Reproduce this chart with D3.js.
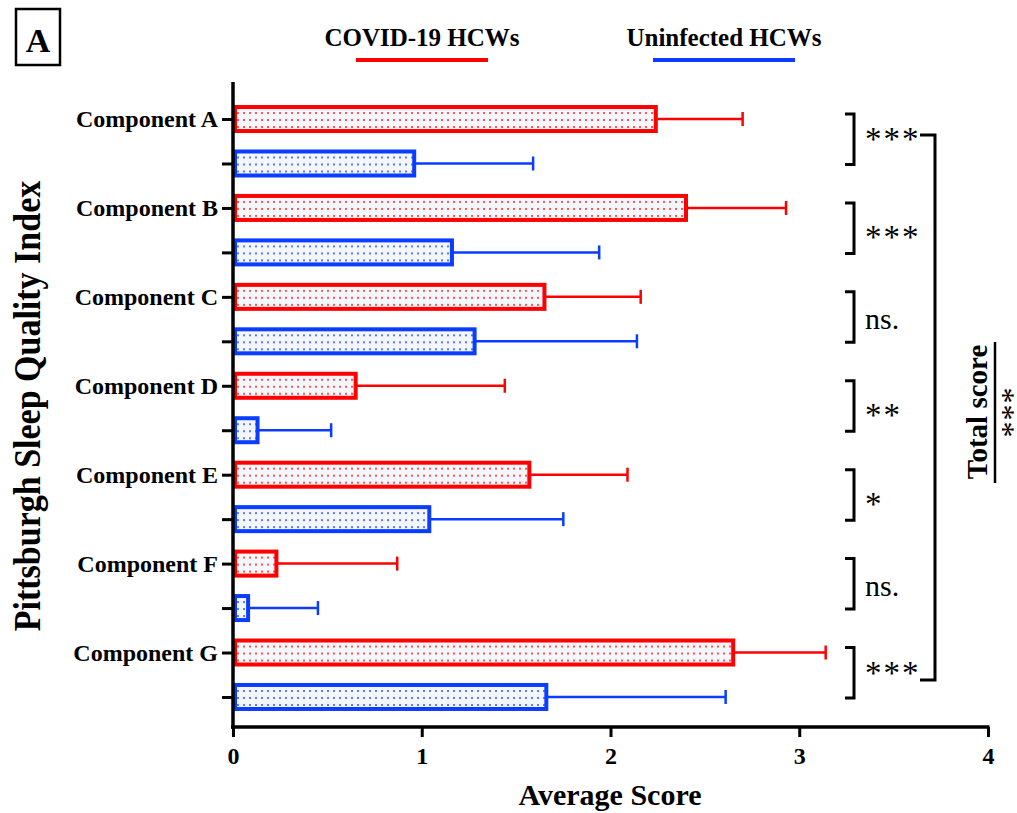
<!DOCTYPE html>
<html>
<head>
<meta charset="utf-8">
<script src="https://cdn.jsdelivr.net/npm/d3@7"></script>
<style>
  body { margin: 0; background: #fff; }
  svg { display: block; }
</style>
</head>
<body>
<div id="chart"></div>
<script>
// values
var components = ["Component A", "Component B", "Component C", "Component D", "Component E", "Component F", "Component G"]
var covidMean = [2.24, 2.40, 1.65, 0.65, 1.57, 0.23, 2.65]
var covidSD = [0.46, 0.53, 0.51, 0.79, 0.52, 0.64, 0.49]
var uninfMean = [0.96, 1.16, 1.28, 0.13, 1.04, 0.08, 1.66]
var uninfSD = [0.63, 0.78, 0.86, 0.39, 0.71, 0.37, 0.95]
var sigLabels = ["***", "***", "ns.", "**", "*", "ns.", "***"]
var xTicks = [0, 1, 2, 3, 4]
var groupNames = ["COVID-19 HCWs", "Uninfected HCWs"]

var W = 1017, H = 813
var pLeft = 233, pRight = 988, pTop = 82, pBottom = 727
var red = "#ff0000", blue = "#0a3dff"
var serif = "'Liberation Serif', 'Times New Roman', serif"

var svg = d3.select("#chart").append("svg")
  .attr("width", W).attr("height", H)
  .style("font-family", serif)

// build rows: each component has a covid row then an uninfected row
var rows = []
components.forEach(function(c, i) {
  rows.push({key: c, comp: i, grp: 0, mean: covidMean[i], sd: covidSD[i]})
  rows.push({key: c + "_u", comp: i, grp: 1, mean: uninfMean[i], sd: uninfSD[i]})
})

var x = d3.scaleLinear().domain([0, 4]).range([pLeft, pRight])
var y = d3.scalePoint().domain(rows.map(function(d) { return d.key }))
  .range([96.8, 719.2]).padding(0.5)
var barH = 24

var defs = svg.append("defs")
rows.forEach(function(d, i) {
  var p = defs.append("pattern")
    .attr("id", "dots" + i)
    .attr("patternUnits", "userSpaceOnUse")
    .attr("x", x(0) + 2).attr("y", y(d.key) - barH / 2)
    .attr("width", 6).attr("height", 7)
  p.append("rect").attr("width", 6).attr("height", 7).attr("fill", "#f3f7fb")
  p.append("circle").attr("cx", 3).attr("cy", 6).attr("r", 1)
    .attr("fill", d.grp == 0 ? "#ff2020" : "#2a50ff")
})

// error bars
var eb = svg.append("g").selectAll("g").data(rows).enter().append("g")
  .attr("stroke", function(d) { return d.grp == 0 ? red : blue })
  .attr("stroke-width", 2.5)
eb.append("line")
  .attr("x1", function(d) { return x(d.mean) }).attr("x2", function(d) { return x(d.mean + d.sd) })
  .attr("y1", function(d) { return y(d.key) }).attr("y2", function(d) { return y(d.key) })
eb.append("line")
  .attr("x1", function(d) { return x(d.mean + d.sd) }).attr("x2", function(d) { return x(d.mean + d.sd) })
  .attr("y1", function(d) { return y(d.key) - 7 }).attr("y2", function(d) { return y(d.key) + 7 })

// bars
svg.append("g").selectAll("rect").data(rows).enter().append("rect")
  .attr("x", x(0) + 2)
  .attr("y", function(d) { return y(d.key) - barH / 2 })
  .attr("width", function(d) { return Math.max(0, x(d.mean) - x(0) - 2) })
  .attr("height", barH)
  .attr("fill", function(d, i) { return "url(#dots" + i + ")" })
  .attr("stroke", function(d) { return d.grp == 0 ? red : blue })
  .attr("stroke-width", 4)

// x axis
var xAxis = svg.append("g")
  .attr("transform", "translate(0," + pBottom + ")")
  .call(d3.axisBottom(x).tickValues(xTicks).tickFormat(d3.format("d")).tickSize(10).tickSizeOuter(0).tickPadding(10))
xAxis.select(".domain").attr("stroke-width", 3.5).attr("d", "M" + (pLeft - 2) + ",0H" + (pRight + 1.5))
xAxis.selectAll(".tick line").attr("stroke-width", 3)
xAxis.selectAll(".tick text").style("font-size", "24px").style("font-weight", "bold").style("font-family", serif)

// y axis
var yAxis = svg.append("g")
  .attr("transform", "translate(" + pLeft + ",0)")
  .call(d3.axisLeft(y).tickSize(11).tickPadding(4).tickFormat(function(k) {
    return k.slice(-2) == "_u" ? "" : k
  }))
yAxis.select(".domain").remove()
yAxis.selectAll(".tick line").attr("stroke-width", 3)
yAxis.selectAll(".tick text").style("font-size", "24px").style("font-weight", "bold").style("font-family", serif)
svg.append("line").attr("x1", pLeft).attr("x2", pLeft).attr("y1", pTop).attr("y2", pBottom + 1.7)
  .attr("stroke", "#000").attr("stroke-width", 3.5)

// axis titles
svg.append("text").attr("x", 610).attr("y", 805).attr("text-anchor", "middle")
  .style("font-size", "30px").style("font-weight", "bold").text("Average Score")
svg.append("text").attr("transform", "translate(40,406) rotate(-90) scale(1,1.1)").attr("text-anchor", "middle")
  .style("font-size", "34px").style("font-weight", "bold").text("Pittsburgh Sleep Quality Index")

// significance brackets per component
components.forEach(function(c, i) {
  var t = y(c) - 5, b = y(c + "_u") + 1
  svg.append("path")
    .attr("d", "M845," + t + "H854V" + b + "H845")
    .attr("fill", "none").attr("stroke", "#000").attr("stroke-width", 3)
  var stars = sigLabels[i].charAt(0) == "*"
  var dy = (i == 0 || i == components.length - 1) ? -9 : 0
  svg.append("text").attr("x", 865).attr("y", (t + b) / 2 + (stars ? 20 : 12) + dy)
    .style("font-size", stars ? "33px" : "30px")
    .style("letter-spacing", stars ? "2px" : "0px")
    .text(sigLabels[i])
})

// total score bracket
var bt = y(components[0]) + 16, bb = y(components[6] + "_u") - 17
svg.append("path").attr("d", "M920," + bt + "H935V" + bb + "H920")
  .attr("fill", "none").attr("stroke", "#000").attr("stroke-width", 3)
svg.append("text").attr("transform", "translate(987,412) rotate(-90)").attr("text-anchor", "middle")
  .style("font-size", "29px").style("font-weight", "bold").text("Total score")
svg.append("line").attr("x1", 995).attr("x2", 995).attr("y1", 342).attr("y2", 483)
  .attr("stroke", "#000").attr("stroke-width", 2.5)
svg.append("text").attr("transform", "translate(1023,412) rotate(-90)").attr("text-anchor", "middle")
  .style("font-size", "32px").style("letter-spacing", "1px").text("***")

// legend
var legX = [[356, 488], [653, 795]]
groupNames.forEach(function(g, i) {
  var cx = (legX[i][0] + legX[i][1]) / 2
  svg.append("text").attr("x", cx).attr("y", 46).attr("text-anchor", "middle")
    .style("font-size", "25px").style("font-weight", "bold").text(g)
  svg.append("line").attr("x1", legX[i][0]).attr("x2", legX[i][1]).attr("y1", 60).attr("y2", 60)
    .attr("stroke", i == 0 ? red : blue).attr("stroke-width", 4)
})

// panel letter
svg.append("rect").attr("x", 16).attr("y", 9).attr("width", 44).attr("height", 56)
  .attr("fill", "none").attr("stroke", "#000").attr("stroke-width", 2.5)
svg.append("text").attr("x", 38).attr("y", 52).attr("text-anchor", "middle")
  .style("font-size", "34px").style("font-weight", "bold").text("A")
</script>
</body>
</html>
